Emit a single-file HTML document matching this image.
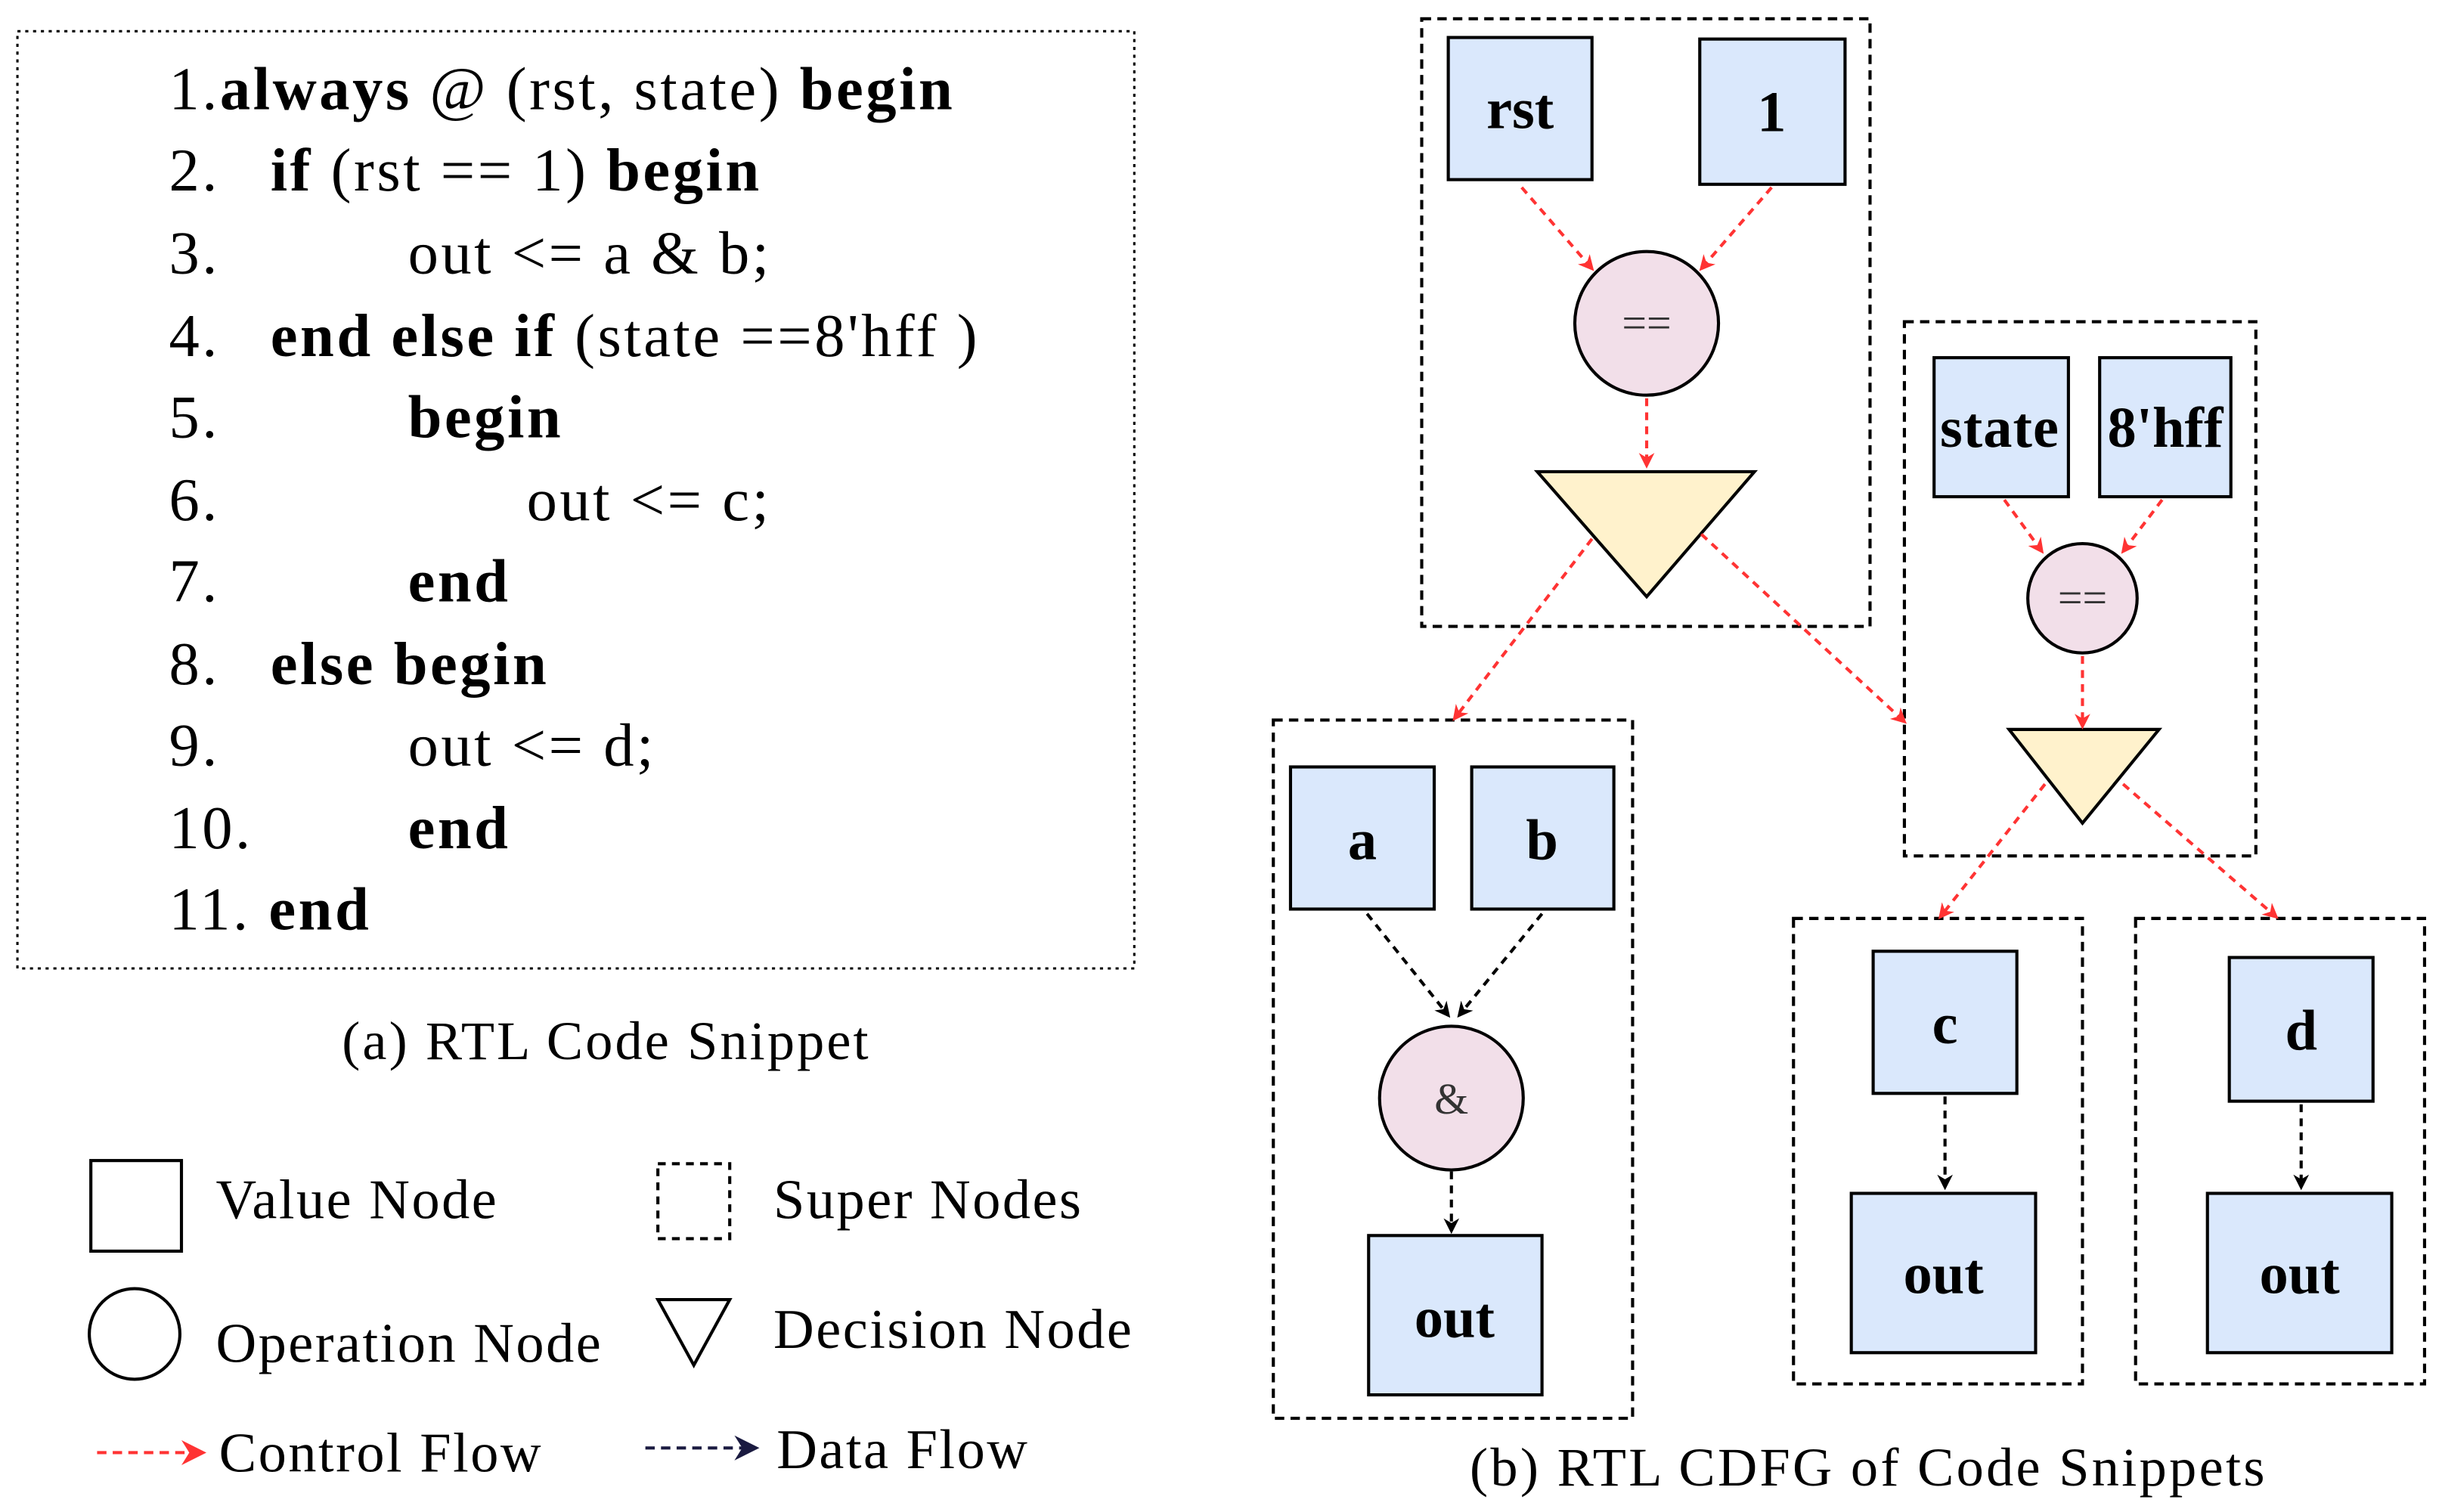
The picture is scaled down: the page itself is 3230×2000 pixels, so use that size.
<!DOCTYPE html>
<html><head><meta charset="utf-8"><style>html,body{margin:0;padding:0;background:#fff}svg{display:block}</style></head><body>
<svg width="3230" height="2000" viewBox="0 0 1563 968" xmlns="http://www.w3.org/2000/svg" font-family="Liberation Serif, serif">
<defs>
<marker id="r" markerWidth="10" markerHeight="10" refX="8" refY="5" orient="auto" markerUnits="userSpaceOnUse"><path d="M0,0 L10,5 L0,10 L3,5 z" fill="#ff3333"/></marker>
<marker id="k" markerWidth="10" markerHeight="10" refX="8" refY="5" orient="auto" markerUnits="userSpaceOnUse"><path d="M0,0 L10,5 L0,10 L3,5 z" fill="#000"/></marker>
<marker id="rl" markerWidth="16" markerHeight="16" refX="14" refY="8" orient="auto" markerUnits="userSpaceOnUse"><path d="M0,0 L16,8 L0,16 L5,8 z" fill="#ff3333"/></marker>
<marker id="kl" markerWidth="16" markerHeight="16" refX="14" refY="8" orient="auto" markerUnits="userSpaceOnUse"><path d="M0,0 L16,8 L0,16 L5,8 z" fill="#1a1a40"/></marker>
</defs>
<rect x="11" y="20" width="715" height="600" fill="none" stroke="#000" stroke-width="1.5" stroke-dasharray="2,3"/>
<g font-size="39" letter-spacing="1.7">
<text x="108" y="70">1.<tspan font-weight="bold">always</tspan> @ (rst, state) <tspan font-weight="bold">begin</tspan></text>
<text x="108" y="122">2.</text><text x="173" y="122"><tspan font-weight="bold">if</tspan> (rst == 1) <tspan font-weight="bold">begin</tspan></text>
<text x="108" y="175">3.</text><text x="261" y="175">out &lt;= a &amp; b;</text>
<text x="108" y="228">4.</text><text x="173" y="228"><tspan font-weight="bold">end else if</tspan> (state ==8'hff )</text>
<text x="108" y="280">5.</text><text x="261" y="280" font-weight="bold">begin</text>
<text x="108" y="333">6.</text><text x="337" y="333">out &lt;= c;</text>
<text x="108" y="385">7.</text><text x="261" y="385" font-weight="bold">end</text>
<text x="108" y="438">8.</text><text x="173" y="438" font-weight="bold">else  begin</text>
<text x="108" y="490">9.</text><text x="261" y="490">out &lt;= d;</text>
<text x="108" y="543">10.</text><text x="261" y="543" font-weight="bold">end</text>
<text x="108" y="595">11. <tspan font-weight="bold">end</tspan></text>
</g>
<text x="388" y="678" font-size="35" letter-spacing="1.5" text-anchor="middle">(a) RTL Code Snippet</text>
<g font-size="36" letter-spacing="1.2">
<rect x="58" y="743" width="58" height="58" fill="none" stroke="#000" stroke-width="2"/>
<text x="138" y="780">Value Node</text>
<circle cx="86" cy="854" r="29" fill="none" stroke="#000" stroke-width="2"/>
<text x="138" y="872">Operation Node</text>
<line x1="62" y1="930" x2="130" y2="930" stroke="#ff3333" stroke-width="2" stroke-dasharray="6,4" marker-end="url(#rl)"/>
<text x="140" y="942">Control Flow</text>
<rect x="421" y="745" width="46" height="48" fill="none" stroke="#000" stroke-width="2" stroke-dasharray="5,4"/>
<text x="495" y="780">Super Nodes</text>
<path d="M421,832 L467,832 L444,874 z" fill="none" stroke="#000" stroke-width="2"/>
<text x="495" y="863">Decision Node</text>
<line x1="413" y1="927" x2="484" y2="927" stroke="#1a1a40" stroke-width="2" stroke-dasharray="6,4" marker-end="url(#kl)"/>
<text x="497" y="940">Data Flow</text>
</g>
<g fill="none" stroke="#000" stroke-width="2" stroke-dasharray="6,4">
<rect x="910" y="12" width="287" height="389"/>
<rect x="1219" y="206" width="225" height="342"/>
<rect x="815" y="461" width="230" height="447"/>
<rect x="1148" y="588" width="185" height="298"/>
<rect x="1367" y="588" width="185" height="298"/>
</g>
<g fill="#dae8fc" stroke="#000" stroke-width="2">
<rect x="927" y="24" width="92" height="91"/>
<rect x="1088" y="25" width="93" height="93"/>
<rect x="1238" y="229" width="86" height="89"/>
<rect x="1344" y="229" width="84" height="89"/>
<rect x="826" y="491" width="92" height="91"/>
<rect x="942" y="491" width="91" height="91"/>
<rect x="876" y="791" width="111" height="102"/>
<rect x="1199" y="609" width="92" height="91"/>
<rect x="1185" y="764" width="118" height="102"/>
<rect x="1427" y="613" width="92" height="92"/>
<rect x="1413" y="764" width="118" height="102"/>
</g>
<g fill="#f2dfe9" stroke="#000" stroke-width="2">
<circle cx="1054" cy="207" r="46"/>
<circle cx="1333" cy="383" r="35"/>
<circle cx="929" cy="703" r="46"/>
</g>
<g fill="#fff2cc" stroke="#000" stroke-width="2">
<path d="M984,302 L1123,302 L1054,382 z"/>
<path d="M1286,467 L1382,467 L1333,527 z"/>
</g>
<g font-size="37" font-weight="bold" text-anchor="middle">
<text x="973" y="82">rst</text>
<text x="1134" y="84">1</text>
<text x="1280" y="286" letter-spacing="0.5">state</text>
<text x="1386" y="286">8'hff</text>
<text x="872" y="550">a</text>
<text x="987" y="550">b</text>
<text x="931" y="856">out</text>
<text x="1245" y="668">c</text>
<text x="1244" y="828">out</text>
<text x="1473" y="672">d</text>
<text x="1472" y="828">out</text>
</g>
<g font-size="28" text-anchor="middle" fill="#333">
<text x="1054" y="216">==</text>
<text x="1333" y="392">==</text>
<text x="929" y="713">&amp;</text>
</g>
<g stroke="#ff3333" stroke-width="2" stroke-dasharray="5,4" fill="none" marker-end="url(#r)">
<line x1="974" y1="120" x2="1019" y2="172"/>
<line x1="1134" y1="120" x2="1089" y2="172"/>
<line x1="1054" y1="255" x2="1054" y2="298"/>
<line x1="1019" y1="345" x2="931" y2="460"/>
<line x1="1089" y1="342" x2="1219" y2="462"/>
<line x1="1283" y1="320" x2="1307" y2="353"/>
<line x1="1384" y1="320" x2="1359" y2="353"/>
<line x1="1333" y1="420" x2="1333" y2="465"/>
<line x1="1309" y1="502" x2="1242" y2="587"/>
<line x1="1359" y1="502" x2="1457" y2="587"/>
</g>
<g stroke="#000" stroke-width="2" stroke-dasharray="5,4" fill="none" marker-end="url(#k)">
<line x1="875" y1="585" x2="927" y2="650"/>
<line x1="987" y1="585" x2="934" y2="650"/>
<line x1="929" y1="750" x2="929" y2="788"/>
<line x1="1245" y1="702" x2="1245" y2="760"/>
<line x1="1473" y1="707" x2="1473" y2="760"/>
</g>
<text x="1196" y="951" font-size="35" letter-spacing="1.6" text-anchor="middle">(b) RTL CDFG of Code Snippets</text>
</svg>
</body></html>
